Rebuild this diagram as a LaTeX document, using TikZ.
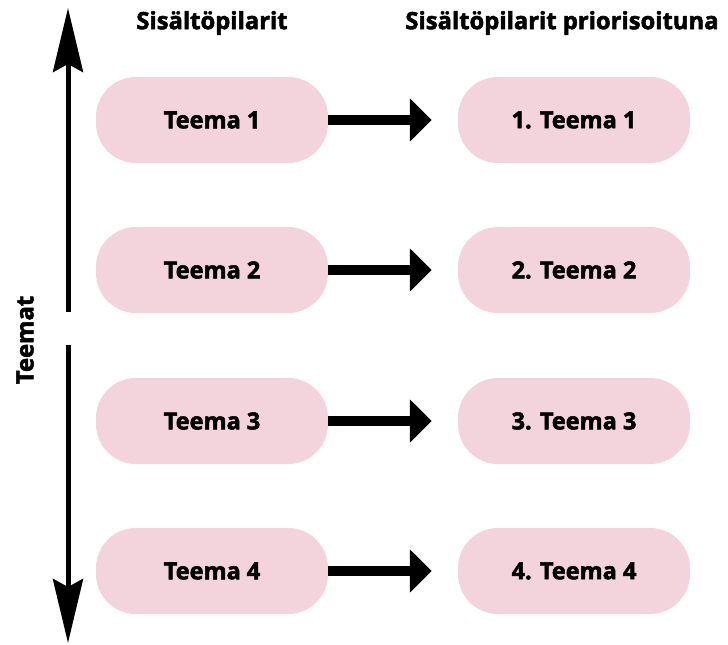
\documentclass[tikz,border=0pt]{standalone}
\usepackage{fontspec}
\setmainfont{Open Sans}
\newfontfamily\heavyfont{Open Sans Bold}[FakeBold=2.2]
\usetikzlibrary{positioning,arrows.meta}
\definecolor{themepink}{RGB}{243,211,220}

\begin{document}
\begin{tikzpicture}[x=1pt,y=-1pt,
  theme/.style={fill=themepink, rounded corners=40pt, minimum width=232pt, minimum height=86pt, inner sep=0pt, font=\heavyfont\fontsize{23.5}{28}\selectfont},
  heading/.style={font=\heavyfont\fontsize{23.8}{28}\selectfont},
  bigarrow/.style={line width=10pt, -{Triangle[length=22pt,width=42pt]}, shorten >=26pt},
  axisarrow/.style={line width=5pt, -{Stealth[length=64pt,width=30pt,inset=8pt]}}]
\useasboundingbox (0,0) rectangle (728,645);
% headings
\node[heading] (h1) at (212,23) {Sisältöpilarit};
\node[heading] (h2) at (562,23) {Sisältöpilarit priorisoituna};
% left column
\node[theme] (t1) at (212,120) {Teema 1};
\node[theme] (t2) at (212,270) {Teema 2};
\node[theme] (t3) at (212,421) {Teema 3};
\node[theme] (t4) at (212,571) {Teema 4};
% right column
\node[theme] (p1) at (574,120) {1. Teema 1};
\node[theme] (p2) at (574,270) {2. Teema 2};
\node[theme] (p3) at (574,421) {3. Teema 3};
\node[theme] (p4) at (574,571) {4. Teema 4};
% arrows
\draw[bigarrow] (t1.east) -- (p1.west);
\draw[bigarrow] (t2.east) -- (p2.west);
\draw[bigarrow] (t3.east) -- (p3.west);
\draw[bigarrow] (t4.east) -- (p4.west);
% axis
\coordinate (top) at (68,8);
\coordinate (mid1) at (68,312);
\coordinate (mid2) at (68,345);
\coordinate (bottom) at (68,643);
\draw[axisarrow] (mid1) -- (top);
\draw[axisarrow] (mid2) -- (bottom);
\node[heading, rotate=90] (axis) at (25,340) {Teemat};
\end{tikzpicture}
\end{document}
